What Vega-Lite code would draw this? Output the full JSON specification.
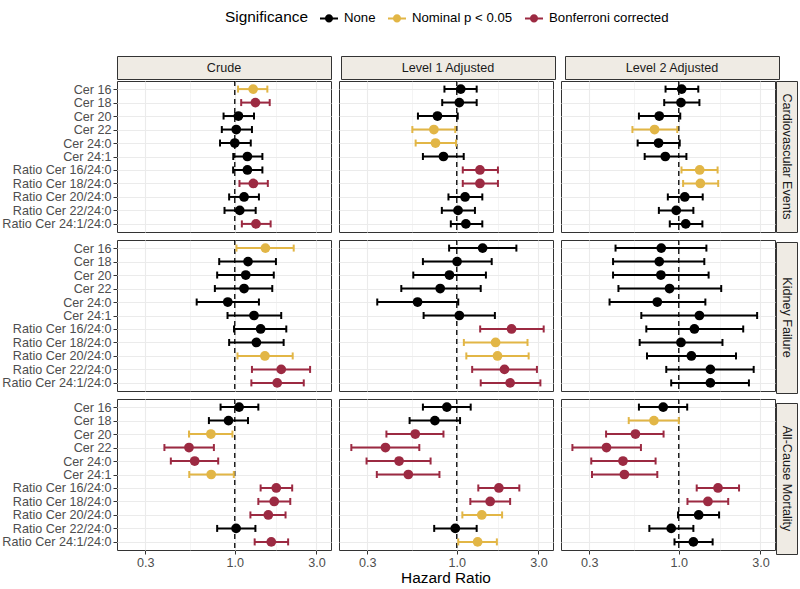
{
  "$schema": "https://vega.github.io/schema/vega-lite/v6.json",
  "padding": {"left": 1, "top": 9, "right": 3, "bottom": 3},
  "autosize": {"type": "pad"},
  "background": "white",
  "config": {
    "font": "Liberation Sans",
    "view": {"stroke": "#333333", "strokeWidth": 1}
  },
  "datasets": {
    "d": [
      {"o":"Cardiovascular Events","m":"Crude","b":"Cer 16","hr":1.28,"lo":1.045,"hi":1.55,"s":"Nominal p < 0.05"},
      {"o":"Cardiovascular Events","m":"Crude","b":"Cer 18","hr":1.32,"lo":1.09,"hi":1.60,"s":"Bonferroni corrected"},
      {"o":"Cardiovascular Events","m":"Crude","b":"Cer 20","hr":1.05,"lo":0.86,"hi":1.295,"s":"None"},
      {"o":"Cardiovascular Events","m":"Crude","b":"Cer 22","hr":1.02,"lo":0.84,"hi":1.26,"s":"None"},
      {"o":"Cardiovascular Events","m":"Crude","b":"Cer 24:0","hr":1.00,"lo":0.82,"hi":1.24,"s":"None"},
      {"o":"Cardiovascular Events","m":"Crude","b":"Cer 24:1","hr":1.185,"lo":0.98,"hi":1.45,"s":"None"},
      {"o":"Cardiovascular Events","m":"Crude","b":"Ratio Cer 16/24:0","hr":1.185,"lo":0.978,"hi":1.45,"s":"None"},
      {"o":"Cardiovascular Events","m":"Crude","b":"Ratio Cer 18/24:0","hr":1.284,"lo":1.065,"hi":1.56,"s":"Bonferroni corrected"},
      {"o":"Cardiovascular Events","m":"Crude","b":"Ratio Cer 20/24:0","hr":1.133,"lo":0.927,"hi":1.384,"s":"None"},
      {"o":"Cardiovascular Events","m":"Crude","b":"Ratio Cer 22/24:0","hr":1.069,"lo":0.871,"hi":1.325,"s":"None"},
      {"o":"Cardiovascular Events","m":"Crude","b":"Ratio Cer 24:1/24:0","hr":1.33,"lo":1.10,"hi":1.62,"s":"Bonferroni corrected"},

      {"o":"Cardiovascular Events","m":"Level 1 Adjusted","b":"Cer 16","hr":1.055,"lo":0.847,"hi":1.307,"s":"None"},
      {"o":"Cardiovascular Events","m":"Level 1 Adjusted","b":"Cer 18","hr":1.035,"lo":0.822,"hi":1.307,"s":"None"},
      {"o":"Cardiovascular Events","m":"Level 1 Adjusted","b":"Cer 20","hr":0.771,"lo":0.593,"hi":1.013,"s":"None"},
      {"o":"Cardiovascular Events","m":"Level 1 Adjusted","b":"Cer 22","hr":0.735,"lo":0.55,"hi":0.98,"s":"Nominal p < 0.05"},
      {"o":"Cardiovascular Events","m":"Level 1 Adjusted","b":"Cer 24:0","hr":0.751,"lo":0.575,"hi":0.99,"s":"Nominal p < 0.05"},
      {"o":"Cardiovascular Events","m":"Level 1 Adjusted","b":"Cer 24:1","hr":0.836,"lo":0.634,"hi":1.098,"s":"None"},
      {"o":"Cardiovascular Events","m":"Level 1 Adjusted","b":"Ratio Cer 16/24:0","hr":1.366,"lo":1.084,"hi":1.74,"s":"Bonferroni corrected"},
      {"o":"Cardiovascular Events","m":"Level 1 Adjusted","b":"Ratio Cer 18/24:0","hr":1.366,"lo":1.084,"hi":1.74,"s":"Bonferroni corrected"},
      {"o":"Cardiovascular Events","m":"Level 1 Adjusted","b":"Ratio Cer 20/24:0","hr":1.118,"lo":0.894,"hi":1.41,"s":"None"},
      {"o":"Cardiovascular Events","m":"Level 1 Adjusted","b":"Ratio Cer 22/24:0","hr":1.017,"lo":0.818,"hi":1.277,"s":"None"},
      {"o":"Cardiovascular Events","m":"Level 1 Adjusted","b":"Ratio Cer 24:1/24:0","hr":1.13,"lo":0.923,"hi":1.41,"s":"None"},

      {"o":"Cardiovascular Events","m":"Level 2 Adjusted","b":"Cer 16","hr":1.04,"lo":0.837,"hi":1.30,"s":"None"},
      {"o":"Cardiovascular Events","m":"Level 2 Adjusted","b":"Cer 18","hr":1.03,"lo":0.822,"hi":1.32,"s":"None"},
      {"o":"Cardiovascular Events","m":"Level 2 Adjusted","b":"Cer 20","hr":0.769,"lo":0.585,"hi":1.02,"s":"None"},
      {"o":"Cardiovascular Events","m":"Level 2 Adjusted","b":"Cer 22","hr":0.722,"lo":0.536,"hi":0.98,"s":"Nominal p < 0.05"},
      {"o":"Cardiovascular Events","m":"Level 2 Adjusted","b":"Cer 24:0","hr":0.762,"lo":0.575,"hi":1.013,"s":"None"},
      {"o":"Cardiovascular Events","m":"Level 2 Adjusted","b":"Cer 24:1","hr":0.834,"lo":0.632,"hi":1.108,"s":"None"},
      {"o":"Cardiovascular Events","m":"Level 2 Adjusted","b":"Ratio Cer 16/24:0","hr":1.325,"lo":1.037,"hi":1.686,"s":"Nominal p < 0.05"},
      {"o":"Cardiovascular Events","m":"Level 2 Adjusted","b":"Ratio Cer 18/24:0","hr":1.337,"lo":1.06,"hi":1.70,"s":"Nominal p < 0.05"},
      {"o":"Cardiovascular Events","m":"Level 2 Adjusted","b":"Ratio Cer 20/24:0","hr":1.084,"lo":0.863,"hi":1.38,"s":"None"},
      {"o":"Cardiovascular Events","m":"Level 2 Adjusted","b":"Ratio Cer 22/24:0","hr":0.966,"lo":0.765,"hi":1.217,"s":"None"},
      {"o":"Cardiovascular Events","m":"Level 2 Adjusted","b":"Ratio Cer 24:1/24:0","hr":1.098,"lo":0.886,"hi":1.374,"s":"None"},

      {"o":"Kidney Failure","m":"Crude","b":"Cer 16","hr":1.51,"lo":1.023,"hi":2.21,"s":"Nominal p < 0.05"},
      {"o":"Kidney Failure","m":"Crude","b":"Cer 18","hr":1.195,"lo":0.811,"hi":1.74,"s":"None"},
      {"o":"Kidney Failure","m":"Crude","b":"Cer 20","hr":1.159,"lo":0.789,"hi":1.69,"s":"None"},
      {"o":"Kidney Failure","m":"Crude","b":"Cer 22","hr":1.133,"lo":0.765,"hi":1.656,"s":"None"},
      {"o":"Kidney Failure","m":"Crude","b":"Cer 24:0","hr":0.91,"lo":0.599,"hi":1.384,"s":"None"},
      {"o":"Kidney Failure","m":"Crude","b":"Cer 24:1","hr":1.295,"lo":0.907,"hi":1.868,"s":"None"},
      {"o":"Kidney Failure","m":"Crude","b":"Ratio Cer 16/24:0","hr":1.416,"lo":0.99,"hi":2.0,"s":"None"},
      {"o":"Kidney Failure","m":"Crude","b":"Ratio Cer 18/24:0","hr":1.337,"lo":0.927,"hi":1.93,"s":"None"},
      {"o":"Kidney Failure","m":"Crude","b":"Ratio Cer 20/24:0","hr":1.50,"lo":1.037,"hi":2.18,"s":"Nominal p < 0.05"},
      {"o":"Kidney Failure","m":"Crude","b":"Ratio Cer 22/24:0","hr":1.868,"lo":1.26,"hi":2.755,"s":"Bonferroni corrected"},
      {"o":"Kidney Failure","m":"Crude","b":"Ratio Cer 24:1/24:0","hr":1.77,"lo":1.25,"hi":2.53,"s":"Bonferroni corrected"},

      {"o":"Kidney Failure","m":"Level 1 Adjusted","b":"Cer 16","hr":1.416,"lo":0.902,"hi":2.23,"s":"None"},
      {"o":"Kidney Failure","m":"Level 1 Adjusted","b":"Cer 18","hr":1.004,"lo":0.634,"hi":1.60,"s":"None"},
      {"o":"Kidney Failure","m":"Level 1 Adjusted","b":"Cer 20","hr":0.906,"lo":0.557,"hi":1.48,"s":"None"},
      {"o":"Kidney Failure","m":"Level 1 Adjusted","b":"Cer 22","hr":0.80,"lo":0.474,"hi":1.38,"s":"None"},
      {"o":"Kidney Failure","m":"Level 1 Adjusted","b":"Cer 24:0","hr":0.59,"lo":0.343,"hi":1.02,"s":"None"},
      {"o":"Kidney Failure","m":"Level 1 Adjusted","b":"Cer 24:1","hr":1.035,"lo":0.64,"hi":1.67,"s":"None"},
      {"o":"Kidney Failure","m":"Level 1 Adjusted","b":"Ratio Cer 16/24:0","hr":2.09,"lo":1.37,"hi":3.22,"s":"Bonferroni corrected"},
      {"o":"Kidney Failure","m":"Level 1 Adjusted","b":"Ratio Cer 18/24:0","hr":1.686,"lo":1.10,"hi":2.59,"s":"Nominal p < 0.05"},
      {"o":"Kidney Failure","m":"Level 1 Adjusted","b":"Ratio Cer 20/24:0","hr":1.73,"lo":1.137,"hi":2.63,"s":"Nominal p < 0.05"},
      {"o":"Kidney Failure","m":"Level 1 Adjusted","b":"Ratio Cer 22/24:0","hr":1.90,"lo":1.23,"hi":2.94,"s":"Bonferroni corrected"},
      {"o":"Kidney Failure","m":"Level 1 Adjusted","b":"Ratio Cer 24:1/24:0","hr":2.05,"lo":1.38,"hi":3.08,"s":"Bonferroni corrected"},

      {"o":"Kidney Failure","m":"Level 2 Adjusted","b":"Cer 16","hr":0.79,"lo":0.427,"hi":1.45,"s":"None"},
      {"o":"Kidney Failure","m":"Level 2 Adjusted","b":"Cer 18","hr":0.769,"lo":0.413,"hi":1.41,"s":"None"},
      {"o":"Kidney Failure","m":"Level 2 Adjusted","b":"Cer 20","hr":0.786,"lo":0.413,"hi":1.494,"s":"None"},
      {"o":"Kidney Failure","m":"Level 2 Adjusted","b":"Cer 22","hr":0.883,"lo":0.444,"hi":1.77,"s":"None"},
      {"o":"Kidney Failure","m":"Level 2 Adjusted","b":"Cer 24:0","hr":0.749,"lo":0.394,"hi":1.43,"s":"None"},
      {"o":"Kidney Failure","m":"Level 2 Adjusted","b":"Cer 24:1","hr":1.32,"lo":0.604,"hi":2.87,"s":"None"},
      {"o":"Kidney Failure","m":"Level 2 Adjusted","b":"Ratio Cer 16/24:0","hr":1.234,"lo":0.646,"hi":2.38,"s":"None"},
      {"o":"Kidney Failure","m":"Level 2 Adjusted","b":"Ratio Cer 18/24:0","hr":1.03,"lo":0.591,"hi":1.80,"s":"None"},
      {"o":"Kidney Failure","m":"Level 2 Adjusted","b":"Ratio Cer 20/24:0","hr":1.185,"lo":0.652,"hi":2.16,"s":"None"},
      {"o":"Kidney Failure","m":"Level 2 Adjusted","b":"Ratio Cer 22/24:0","hr":1.53,"lo":0.845,"hi":2.74,"s":"None"},
      {"o":"Kidney Failure","m":"Level 2 Adjusted","b":"Ratio Cer 24:1/24:0","hr":1.53,"lo":0.903,"hi":2.57,"s":"None"},

      {"o":"All-Cause Mortality","m":"Crude","b":"Cer 16","hr":1.06,"lo":0.826,"hi":1.373,"s":"None"},
      {"o":"All-Cause Mortality","m":"Crude","b":"Cer 18","hr":0.919,"lo":0.706,"hi":1.195,"s":"None"},
      {"o":"All-Cause Mortality","m":"Crude","b":"Cer 20","hr":0.725,"lo":0.54,"hi":0.969,"s":"Nominal p < 0.05"},
      {"o":"All-Cause Mortality","m":"Crude","b":"Cer 22","hr":0.54,"lo":0.388,"hi":0.755,"s":"Bonferroni corrected"},
      {"o":"All-Cause Mortality","m":"Crude","b":"Cer 24:0","hr":0.583,"lo":0.423,"hi":0.80,"s":"Bonferroni corrected"},
      {"o":"All-Cause Mortality","m":"Crude","b":"Cer 24:1","hr":0.728,"lo":0.542,"hi":0.987,"s":"Nominal p < 0.05"},
      {"o":"All-Cause Mortality","m":"Crude","b":"Ratio Cer 16/24:0","hr":1.748,"lo":1.416,"hi":2.165,"s":"Bonferroni corrected"},
      {"o":"All-Cause Mortality","m":"Crude","b":"Ratio Cer 18/24:0","hr":1.70,"lo":1.373,"hi":2.11,"s":"Bonferroni corrected"},
      {"o":"All-Cause Mortality","m":"Crude","b":"Ratio Cer 20/24:0","hr":1.57,"lo":1.234,"hi":1.98,"s":"Bonferroni corrected"},
      {"o":"All-Cause Mortality","m":"Crude","b":"Ratio Cer 22/24:0","hr":1.018,"lo":0.789,"hi":1.32,"s":"None"},
      {"o":"All-Cause Mortality","m":"Crude","b":"Ratio Cer 24:1/24:0","hr":1.634,"lo":1.307,"hi":2.05,"s":"Bonferroni corrected"},

      {"o":"All-Cause Mortality","m":"Level 1 Adjusted","b":"Cer 16","hr":0.875,"lo":0.634,"hi":1.206,"s":"None"},
      {"o":"All-Cause Mortality","m":"Level 1 Adjusted","b":"Cer 18","hr":0.745,"lo":0.53,"hi":1.045,"s":"None"},
      {"o":"All-Cause Mortality","m":"Level 1 Adjusted","b":"Cer 20","hr":0.572,"lo":0.388,"hi":0.836,"s":"Bonferroni corrected"},
      {"o":"All-Cause Mortality","m":"Level 1 Adjusted","b":"Cer 22","hr":0.383,"lo":0.242,"hi":0.604,"s":"Bonferroni corrected"},
      {"o":"All-Cause Mortality","m":"Level 1 Adjusted","b":"Cer 24:0","hr":0.46,"lo":0.297,"hi":0.703,"s":"Bonferroni corrected"},
      {"o":"All-Cause Mortality","m":"Level 1 Adjusted","b":"Cer 24:1","hr":0.521,"lo":0.341,"hi":0.792,"s":"Bonferroni corrected"},
      {"o":"All-Cause Mortality","m":"Level 1 Adjusted","b":"Ratio Cer 16/24:0","hr":1.762,"lo":1.336,"hi":2.32,"s":"Bonferroni corrected"},
      {"o":"All-Cause Mortality","m":"Level 1 Adjusted","b":"Ratio Cer 18/24:0","hr":1.567,"lo":1.2,"hi":2.05,"s":"Bonferroni corrected"},
      {"o":"All-Cause Mortality","m":"Level 1 Adjusted","b":"Ratio Cer 20/24:0","hr":1.40,"lo":1.078,"hi":1.84,"s":"Nominal p < 0.05"},
      {"o":"All-Cause Mortality","m":"Level 1 Adjusted","b":"Ratio Cer 22/24:0","hr":0.98,"lo":0.738,"hi":1.307,"s":"None"},
      {"o":"All-Cause Mortality","m":"Level 1 Adjusted","b":"Ratio Cer 24:1/24:0","hr":1.324,"lo":1.02,"hi":1.715,"s":"Nominal p < 0.05"},

      {"o":"All-Cause Mortality","m":"Level 2 Adjusted","b":"Cer 16","hr":0.811,"lo":0.585,"hi":1.12,"s":"None"},
      {"o":"All-Cause Mortality","m":"Level 2 Adjusted","b":"Cer 18","hr":0.716,"lo":0.51,"hi":1.0,"s":"Nominal p < 0.05"},
      {"o":"All-Cause Mortality","m":"Level 2 Adjusted","b":"Cer 20","hr":0.558,"lo":0.376,"hi":0.815,"s":"Bonferroni corrected"},
      {"o":"All-Cause Mortality","m":"Level 2 Adjusted","b":"Cer 22","hr":0.378,"lo":0.239,"hi":0.601,"s":"Bonferroni corrected"},
      {"o":"All-Cause Mortality","m":"Level 2 Adjusted","b":"Cer 24:0","hr":0.472,"lo":0.308,"hi":0.732,"s":"Bonferroni corrected"},
      {"o":"All-Cause Mortality","m":"Level 2 Adjusted","b":"Cer 24:1","hr":0.481,"lo":0.311,"hi":0.749,"s":"Bonferroni corrected"},
      {"o":"All-Cause Mortality","m":"Level 2 Adjusted","b":"Ratio Cer 16/24:0","hr":1.695,"lo":1.273,"hi":2.25,"s":"Bonferroni corrected"},
      {"o":"All-Cause Mortality","m":"Level 2 Adjusted","b":"Ratio Cer 18/24:0","hr":1.48,"lo":1.124,"hi":1.945,"s":"Bonferroni corrected"},
      {"o":"All-Cause Mortality","m":"Level 2 Adjusted","b":"Ratio Cer 20/24:0","hr":1.307,"lo":0.99,"hi":1.72,"s":"None"},
      {"o":"All-Cause Mortality","m":"Level 2 Adjusted","b":"Ratio Cer 22/24:0","hr":0.903,"lo":0.673,"hi":1.217,"s":"None"},
      {"o":"All-Cause Mortality","m":"Level 2 Adjusted","b":"Ratio Cer 24:1/24:0","hr":1.217,"lo":0.944,"hi":1.577,"s":"None"}
    ]
  },
  "spacing": -1,
  "vconcat": [
    {
      "spacing": 8,
      "hconcat": [
        {
          "width": 214, "height": 23,
          "view": {"fill": "#EFEBE4", "stroke": "#333333", "strokeWidth": 1},
          "data": {"values": [{"t": "Crude"}]},
          "mark": {"type": "text", "fontSize": 12.6, "color": "#1A1A1A", "font": "Liberation Sans"},
          "encoding": {
            "text": {"field": "t", "type": "nominal"},
            "y": {"datum": "Ratio Cer 24:1/24:0", "type": "nominal",
                  "axis": {"title": null, "domain": false, "grid": false, "ticks": true, "tickSize": 4, "tickColor": "transparent",
                           "labelColor": "transparent", "labelPadding": 2, "labelFontSize": 12.6, "labelFont": "Liberation Sans"}}
          }
        },
        {
          "width": 214, "height": 23,
          "view": {"fill": "#EFEBE4", "stroke": "#333333", "strokeWidth": 1},
          "data": {"values": [{"t": "Level 1 Adjusted"}]},
          "mark": {"type": "text", "fontSize": 12.6, "color": "#1A1A1A", "font": "Liberation Sans"},
          "encoding": {"text": {"field": "t", "type": "nominal"}}
        },
        {
          "width": 214, "height": 23,
          "view": {"fill": "#EFEBE4", "stroke": "#333333", "strokeWidth": 1},
          "data": {"values": [{"t": "Level 2 Adjusted"}]},
          "mark": {"type": "text", "fontSize": 12.6, "color": "#1A1A1A", "font": "Liberation Sans"},
          "encoding": {"text": {"field": "t", "type": "nominal"}}
        }
      ]
    },
    {
      "spacing": -1,
      "hconcat": [
        {
          "data": {"name": "d"},
          "spacing": {"row": 8, "column": 8},
          "bounds": "flush",
          "facet": {
            "row": {"field": "o", "type": "nominal", "sort": ["Cardiovascular Events", "Kidney Failure", "All-Cause Mortality"], "header": null},
            "column": {"field": "m", "type": "nominal", "sort": ["Crude", "Level 1 Adjusted", "Level 2 Adjusted"],
                       "title": "Hazard Ratio",
                       "header": {"labels": false, "titleOrient": "bottom", "titleFontSize": 15.4, "titleFontWeight": "normal",
                                  "titleColor": "#000000", "titleFont": "Liberation Sans", "titlePadding": -8}}
          },
          "spec": {
            "width": 214, "height": 151,
            "layer": [
              {
                "transform": [{"aggregate": [{"op": "count", "as": "n"}], "groupby": ["o", "m"]}],
                "mark": {"type": "rule", "strokeDash": [5, 4], "color": "#000000", "strokeWidth": 1.3},
                "encoding": {"x": {"datum": 1, "type": "quantitative"}}
              },
              {
                "encoding": {
                  "y": {"field": "b", "type": "nominal",
                        "sort": ["Cer 16","Cer 18","Cer 20","Cer 22","Cer 24:0","Cer 24:1","Ratio Cer 16/24:0","Ratio Cer 18/24:0","Ratio Cer 20/24:0","Ratio Cer 22/24:0","Ratio Cer 24:1/24:0"],
                        "scale": {"type": "point", "padding": 0.6},
                        "axis": {"title": null, "domain": false, "grid": true, "gridColor": "#EBEBEB", "gridWidth": 1,
                                 "tickSize": 4, "tickColor": "#333333", "labelColor": "#4D4D4D", "labelPadding": 2,
                                 "labelFontSize": 12.6, "labelFont": "Liberation Sans"}},
                  "color": {"field": "s", "type": "nominal",
                            "scale": {"domain": ["None", "Nominal p < 0.05", "Bonferroni corrected"], "range": ["#000000", "#E2B646", "#9C2A42"]},
                            "legend": {"title": "Significance", "orient": "none", "legendX": 108, "legendY": -47,
                                       "direction": "horizontal", "titleOrient": "left",
                                       "titleFontSize": 15.4, "titleFontWeight": "normal", "titleColor": "#000000", "titleFont": "Liberation Sans",
                                       "titlePadding": 12, "titleBaseline": "middle",
                                       "labelFontSize": 13.2, "labelColor": "#000000", "labelFont": "Liberation Sans",
                                       "labelOffset": 6, "columnPadding": 12,
                                       "symbolType": "M-1,-0.11H1V0.11H-1Z M-0.45,0A0.45,0.45,0,1,1,0.45,0A0.45,0.45,0,1,1,-0.45,0Z",
                                       "symbolSize": 324, "symbolStrokeWidth": 0, "symbolOpacity": 1}}
                },
                "layer": [
                  {
                    "mark": {"type": "point", "filled": true, "size": 95, "opacity": 1},
                    "encoding": {
                      "x": {"field": "hr", "type": "quantitative",
                            "scale": {"type": "log", "domain": [0.205, 3.65], "nice": false},
                            "axis": {"values": [0.3, 0.5477, 1, 1.7321, 3],
                                     "labelExpr": "(datum.value == 0.3 || datum.value == 1 || datum.value == 3) ? format(datum.value, '.1f') : ''",
                                     "tickOpacity": {"condition": {"test": "datum.value == 0.3 || datum.value == 1 || datum.value == 3", "value": 1}, "value": 0},
                                     "gridWidth": {"condition": {"test": "datum.value == 0.3 || datum.value == 1 || datum.value == 3", "value": 1.1}, "value": 0.55},
                                     "gridColor": "#EBEBEB", "grid": true, "domain": false,
                                     "tickSize": 4, "tickColor": "#333333", "labelPadding": 2, "labelFontSize": 12.6,
                                     "labelColor": "#4D4D4D", "labelFont": "Liberation Sans", "title": null}}
                    }
                  },
                  {
                    "mark": {"type": "rule", "strokeWidth": 2},
                    "encoding": {
                      "x": {"field": "lo", "type": "quantitative"},
                      "x2": {"field": "hi"}
                    }
                  },
                  {
                    "mark": {"type": "tick", "thickness": 2, "size": 7, "opacity": 1},
                    "encoding": {"x": {"field": "lo", "type": "quantitative"}}
                  },
                  {
                    "mark": {"type": "tick", "thickness": 2, "size": 7, "opacity": 1},
                    "encoding": {"x": {"field": "hi", "type": "quantitative"}}
                  }
                ]
              }
            ]
          }
        },
        {
          "spacing": 8,
          "vconcat": [
            {
              "width": 21, "height": 151,
              "view": {"fill": "#EFEBE4", "stroke": "#333333", "strokeWidth": 1},
              "data": {"values": [{"t": "Cardiovascular Events"}]},
              "mark": {"type": "text", "angle": 90, "fontSize": 12.6, "color": "#1A1A1A", "font": "Liberation Sans"},
              "encoding": {"text": {"field": "t", "type": "nominal"}}
            },
            {
              "width": 21, "height": 151,
              "view": {"fill": "#EFEBE4", "stroke": "#333333", "strokeWidth": 1},
              "data": {"values": [{"t": "Kidney Failure"}]},
              "mark": {"type": "text", "angle": 90, "fontSize": 12.6, "color": "#1A1A1A", "font": "Liberation Sans"},
              "encoding": {"text": {"field": "t", "type": "nominal"}}
            },
            {
              "width": 21, "height": 151,
              "view": {"fill": "#EFEBE4", "stroke": "#333333", "strokeWidth": 1},
              "data": {"values": [{"t": "All-Cause Mortality"}]},
              "mark": {"type": "text", "angle": 90, "fontSize": 12.6, "color": "#1A1A1A", "font": "Liberation Sans"},
              "encoding": {"text": {"field": "t", "type": "nominal"}}
            }
          ]
        }
      ]
    }
  ]
}
